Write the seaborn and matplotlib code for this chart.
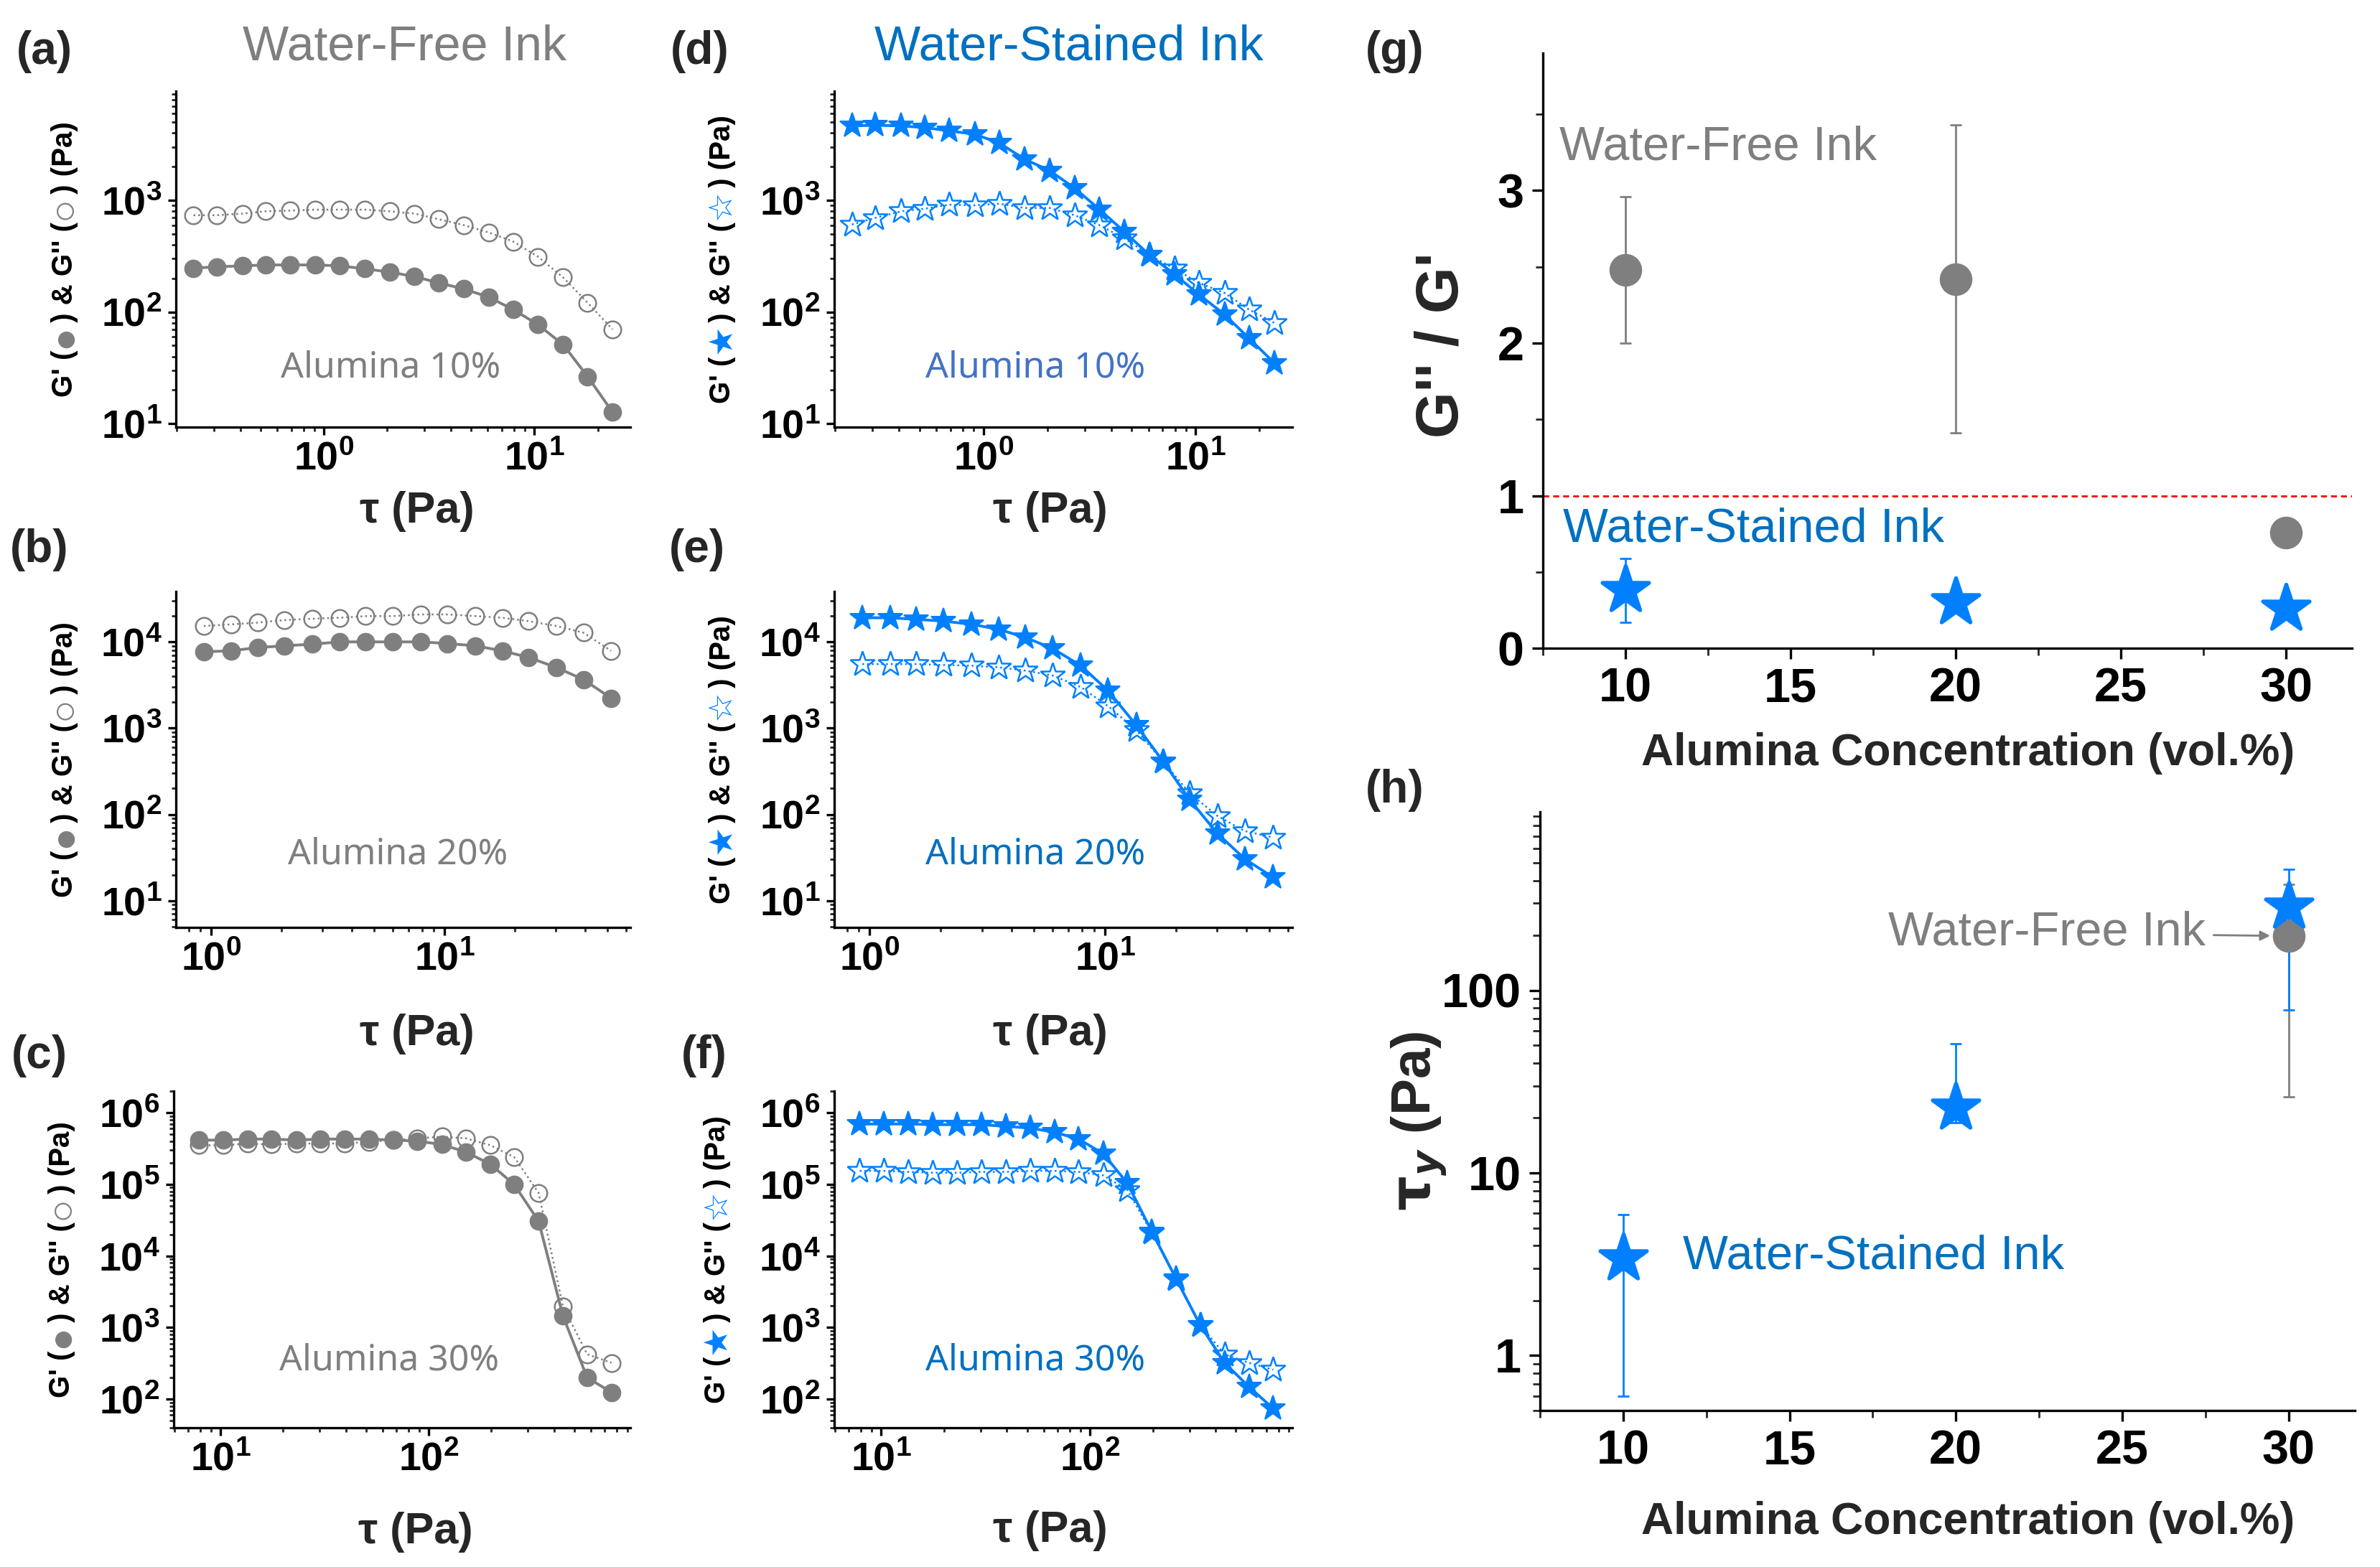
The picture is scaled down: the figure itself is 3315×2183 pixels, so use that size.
import numpy as np
import matplotlib
matplotlib.use("Agg")
import matplotlib.pyplot as plt
from matplotlib.ticker import (LogLocator, NullFormatter, MultipleLocator,
                               AutoMinorLocator, FixedLocator, FixedFormatter)
import seaborn as sns

sns.set_theme(style="ticks")
plt.rcParams['font.family'] = ['Liberation Sans', 'DejaVu Sans']
plt.rcParams['font.weight'] = 'bold'
plt.rcParams['axes.linewidth'] = 1.2
plt.rcParams['axes.edgecolor'] = 'black'

GREY = '#7F7F7F'
BLUE = '#0080FF'
TITLE_BLUE = '#0070C0'
SANS = ['Liberation Sans', 'DejaVu Sans']

# --- amplitude sweep data: shear stress (Pa) vs moduli (Pa) ---
tau_10 = [0.24, 0.31, 0.41, 0.53, 0.69, 0.91, 1.19, 1.56, 2.05, 2.69, 3.52, 4.62,
          6.06, 7.95, 10.4, 13.7, 17.9, 23.5]
wf10_gp = [247, 254, 259, 264, 264, 264, 259, 244, 228, 208, 182, 161, 136, 105,
           77, 51, 26.4, 12.7]
wf10_gpp = [736, 736, 761, 798, 809, 826, 826, 826, 798, 761, 678, 600, 516, 427,
            313, 204, 121, 70]
ws10_gp = [4640, 4710, 4640, 4490, 4190, 3915, 3255, 2345, 1848, 1288, 832, 523,
           324, 218, 143, 95, 58, 35]
ws10_gpp = [608, 697, 798, 843, 915, 903, 934, 855, 855, 736, 600, 456, 324, 244,
            182, 148, 105, 80]

tau_20 = [0.93, 1.22, 1.58, 2.06, 2.71, 3.54, 4.60, 6.0, 7.9, 10.3, 13.6, 17.7,
          22.9, 30.1, 39.4, 51.8]
wf20_gp = [7680, 7880, 8600, 9000, 9400, 10000, 10000, 10000, 10000, 9570, 9000,
           7880, 6610, 5070, 3660, 2230]
wf20_gpp = [15300, 15960, 16700, 17900, 18550, 19050, 19900, 19900, 20800, 20800,
            19900, 19050, 17400, 15300, 12800, 7880]
ws20_gp = [19050, 19050, 18240, 17430, 15970, 13990, 11210, 8380, 5300, 2730, 1082,
           410, 149, 60, 30.4, 18.7]
ws20_gpp = [5530, 5530, 5530, 5390, 5300, 5070, 4640, 4070, 2990, 1806, 948, 410,
            177, 96, 64, 54]

tau_30 = [7.9, 10.3, 13.5, 17.6, 23.1, 30.2, 39.5, 51.7, 67.6, 88.4, 116, 151, 198,
          258, 338, 442, 578, 756]
wf30_gp = [414000, 414000, 428000, 428000, 414000, 428000, 428000, 428000, 414000,
           401000, 359000, 282000, 191000, 98900, 30400, 1456, 200, 125]
wf30_gpp = [351000, 351000, 371000, 359000, 371000, 371000, 371000, 392000, 414000,
            438000, 463000, 438000, 351000, 239000, 75200, 1983, 424, 322]
ws30_gp = [695000, 695000, 695000, 681000, 681000, 681000, 644000, 610000, 534000,
           428000, 267000, 104000, 21900, 4890, 1080, 321, 149, 74]
ws30_gpp = [154000, 154000, 149000, 145000, 145000, 149000, 149000, 154000, 154000,
            149000, 133000, 83800, 21100, 4780, 1080, 424, 321, 258]

# --- summary data ---
conc = [10, 20, 30]
ratio_wf = [2.48, 2.42, 0.76]
ratio_wf_err = [0.48, 1.01, 0.0]
ratio_ws = [0.38, 0.30, 0.26]
ratio_ws_err = [0.21, 0.03, 0.03]

yield_ws = [3.4, 22.8, 287]
yield_ws_lo = [2.8, 4.0, 209]
yield_ws_hi = [2.5, 28, 173]
conc_wf_yield = [30]
yield_wf = [199]
yield_wf_lo = [173]
yield_wf_hi = [181]

W, H, DPI = 3315, 2183, 200
fig = plt.figure(figsize=(W / DPI, H / DPI), dpi=DPI)


def stacked_ylabel(ax, pieces, xfrac, size):
    # y label built from pieces so the marker symbols can carry their own colour
    r = fig.canvas.get_renderer()
    texts = [ax.text(xfrac, 0, s, transform=ax.transAxes, rotation=90, ha='center',
                     va='bottom', color=c, fontsize=size * k, fontweight='bold',
                     family=SANS) for s, c, k in pieces]
    gap = 3
    hs = [t.get_window_extent(r).height for t in texts]
    total = sum(hs) + gap * (len(hs) - 1)
    y = ax.bbox.height / 2 - total / 2
    for t, h in zip(texts, hs):
        t.set_y(y / ax.bbox.height)
        y += h + gap


def sweep_panel(rect, x, gp, gpp, xlim, ylim, blue, note, note_pos, note_color,
                xl_y, xl_x):
    ax = fig.add_axes(rect)
    col = BLUE if blue else GREY
    mk = '*' if blue else 'o'
    ms = 13 if blue else 8.5
    sns.lineplot(x=x, y=gpp, ax=ax, color=col, marker=mk, markersize=ms,
                 markerfacecolor='none', markeredgecolor=col, markeredgewidth=0.9,
                 linestyle=':', linewidth=0.9, estimator=None, sort=False, legend=False)
    sns.lineplot(x=x, y=gp, ax=ax, color=col, marker=mk, markersize=ms,
                 markerfacecolor=col, markeredgecolor=col, linewidth=1.4,
                 estimator=None, sort=False, legend=False)
    ax.set_xscale('log')
    ax.set_yscale('log')
    ax.set_xlim(*xlim)
    ax.set_ylim(*ylim)
    for axis in (ax.xaxis, ax.yaxis):
        axis.set_major_locator(LogLocator(base=10, numticks=12))
        axis.set_minor_locator(LogLocator(base=10, subs=np.arange(2, 10), numticks=12))
        axis.set_minor_formatter(NullFormatter())
    ax.tick_params(which='major', direction='out', length=4, width=1.2,
                   labelsize=20, pad=3, colors='black')
    ax.tick_params(which='minor', direction='out', length=2, width=1.0)
    sns.despine(ax=ax)
    ax.set_xlabel('')
    ax.set_ylabel('')
    ax.text(xl_x, xl_y, 'τ (Pa)', transform=ax.transAxes, ha='center', va='center',
            fontsize=22, fontweight='bold', family=SANS)
    ax.text(note_pos[0], note_pos[1], note, transform=ax.transAxes, ha='center',
            va='center', fontsize=18, fontweight='normal', color=note_color,
            family=['Noto Sans', 'DejaVu Sans'])
    if blue:
        pieces = [("G' (", 'black', 1), ('★', BLUE, 1.15), (") & G'' (", 'black', 1),
                  ('☆', BLUE, 1.15), (') (Pa)', 'black', 1)]
    else:
        pieces = [("G' (", 'black', 1), ('●', GREY, 1.35), (") & G'' (", 'black', 1),
                  ('○', GREY, 1.35), (') (Pa)', 'black', 1)]
    return ax, pieces


panels = [
    ([0.0739, 0.7274, 0.1910, 0.2144], tau_10, wf10_gp, wf10_gpp, (0.198, 28.6),
     (9.3, 9500), False, 'Alumina 10%', (0.472, 0.177), GREY, -0.25, 0.53, -0.245),
    ([0.3505, 0.7274, 0.1925, 0.2144], tau_10, ws10_gp, ws10_gpp, (0.198, 28.6),
     (9.3, 9500), True, 'Alumina 10%', (0.439, 0.177), '#4472C4', -0.25, 0.472, -0.245),
    ([0.0739, 0.4082, 0.1910, 0.2144], tau_20, wf20_gp, wf20_gpp, (0.706, 62.7),
     (4.9, 38500), False, 'Alumina 20%', (0.488, 0.216), GREY, -0.318, 0.53, -0.245),
    ([0.3505, 0.4082, 0.1925, 0.2144], tau_20, ws20_gp, ws20_gpp, (0.706, 62.7),
     (4.9, 38500), True, 'Alumina 20%', (0.439, 0.216), TITLE_BLUE, -0.318, 0.472, -0.245),
    ([0.0730, 0.0889, 0.1919, 0.2148], tau_30, wf30_gp, wf30_gpp, (5.96, 933),
     (40, 2.0e6), False, 'Alumina 30%', (0.472, 0.20), GREY, -0.311, 0.53, -0.245),
    ([0.3505, 0.0889, 0.1925, 0.2148], tau_30, ws30_gp, ws30_gpp, (5.96, 933),
     (40, 2.0e6), True, 'Alumina 30%', (0.439, 0.20), TITLE_BLUE, -0.307, 0.472, -0.255),
]

label_jobs = []
for (rect, x, gp, gpp, xlim, ylim, blue, note, npos, ncol, xly, xlx, ylx) in panels:
    ax, pieces = sweep_panel(rect, x, gp, gpp, xlim, ylim, blue, note, npos, ncol,
                             xly, xlx)
    label_jobs.append((ax, pieces, ylx))

fig.canvas.draw()
for ax, pieces, ylx in label_jobs:
    stacked_ylabel(ax, pieces, ylx, 14.5)

# --- (g) G''/G' ratio ---
axg = fig.add_axes([0.6483, 0.5863, 0.3400, 0.3798])
axg.errorbar(conc, ratio_wf, yerr=ratio_wf_err, fmt='none', ecolor=GREY,
             elinewidth=1.0, capsize=3, capthick=1.0)
axg.errorbar(conc, ratio_ws, yerr=ratio_ws_err, fmt='none', ecolor=BLUE,
             elinewidth=1.0, capsize=3, capthick=1.0)
sns.scatterplot(x=conc, y=ratio_wf, ax=axg, color=GREY, marker='o', s=230,
                edgecolor=GREY, legend=False, zorder=3)
sns.scatterplot(x=conc, y=ratio_ws, ax=axg, color=BLUE, marker='*', s=600,
                edgecolor=BLUE, legend=False, zorder=3)
axg.axhline(1, color='#FF0000', linestyle='--', linewidth=1.0, dashes=(3, 2))
axg.set_xlim(7.5, 32)
axg.set_ylim(0, 3.9)
axg.yaxis.set_major_locator(FixedLocator([0, 1, 2, 3]))
axg.yaxis.set_minor_locator(MultipleLocator(0.5))
axg.xaxis.set_major_locator(MultipleLocator(5))
axg.xaxis.set_minor_locator(AutoMinorLocator(2))
axg.tick_params(which='major', direction='out', length=5.5, width=1.2,
                labelsize=24, pad=4, colors='black')
axg.tick_params(which='minor', direction='out', length=3.5, width=1.0)
sns.despine(ax=axg)
axg.text(0.525, -0.177, 'Alumina Concentration (vol.%)', transform=axg.transAxes,
         ha='center', va='center', fontsize=22.5, fontweight='bold', family=SANS)
axg.text(-0.125, 0.51, "G'' / G'", transform=axg.transAxes, rotation=90,
         ha='center', va='center', fontsize=30, fontweight='bold', family=SANS)
axg.text(8.0, 3.28, 'Water-Free Ink', color=GREY, fontsize=24, fontweight='normal',
         family=SANS, va='center', ha='left')
axg.text(8.1, 0.78, 'Water-Stained Ink', color=TITLE_BLUE, fontsize=24,
         fontweight='normal', family=SANS, va='center', ha='left')

# --- (h) yield stress ---
axh = fig.add_axes([0.6471, 0.0999, 0.3424, 0.3820])
axh.set_yscale('log')
axh.errorbar(conc_wf_yield, yield_wf, yerr=[yield_wf_lo, yield_wf_hi], fmt='none',
             ecolor=GREY, elinewidth=1.0, capsize=3, capthick=1.0)
axh.errorbar(conc, yield_ws, yerr=[yield_ws_lo, yield_ws_hi], fmt='none',
             ecolor=BLUE, elinewidth=1.0, capsize=3, capthick=1.0)
sns.scatterplot(x=conc_wf_yield, y=yield_wf, ax=axh, color=GREY, marker='o', s=230,
                edgecolor=GREY, legend=False, zorder=3)
sns.scatterplot(x=conc, y=yield_ws, ax=axh, color=BLUE, marker='*', s=600,
                edgecolor=BLUE, legend=False, zorder=3)
axh.set_xlim(7.5, 32)
axh.set_ylim(0.5, 950)
axh.yaxis.set_major_locator(FixedLocator([1, 10, 100]))
axh.yaxis.set_major_formatter(FixedFormatter(['1', '10', '100']))
axh.yaxis.set_minor_locator(LogLocator(base=10, subs=np.arange(2, 10), numticks=12))
axh.yaxis.set_minor_formatter(NullFormatter())
axh.xaxis.set_major_locator(MultipleLocator(5))
axh.xaxis.set_minor_locator(AutoMinorLocator(2))
axh.tick_params(which='major', direction='out', length=5.5, width=1.2,
                labelsize=24, pad=4, colors='black')
axh.tick_params(which='minor', direction='out', length=3.5, width=1.0)
sns.despine(ax=axh)
axh.text(0.525, -0.187, 'Alumina Concentration (vol.%)', transform=axh.transAxes,
         ha='center', va='center', fontsize=22.5, fontweight='bold', family=SANS)
axh.text(-0.149, 0.483, r'$\mathbf{\tau}_{y}$ (Pa)', transform=axh.transAxes,
         rotation=90, ha='center', va='center', fontsize=27.5, fontweight='bold',
         family=SANS)
axh.annotate('Water-Free Ink', xy=(29.45, 199), xytext=(27.5, 206), color=GREY,
             fontsize=24, fontweight='normal', family=SANS, ha='right', va='center',
             arrowprops=dict(arrowstyle='-|>', color=GREY, lw=1.0,
                             mutation_scale=10, shrinkA=2, shrinkB=0))
axh.text(11.8, 3.47, 'Water-Stained Ink', color=TITLE_BLUE, fontsize=24,
         fontweight='normal', family=SANS, va='center', ha='left')

# --- titles and panel letters ---
fig.text(0.170, 0.970, 'Water-Free Ink', color=GREY, fontsize=24.5,
         fontweight='normal', family=SANS, ha='center', va='center')
fig.text(0.449, 0.970, 'Water-Stained Ink', color=TITLE_BLUE, fontsize=24.5,
         fontweight='normal', family=SANS, ha='center', va='center')
letters = [('(a)', 0.0187, 0.967), ('(d)', 0.294, 0.967), ('(b)', 0.0166, 0.649),
           ('(e)', 0.293, 0.649), ('(c)', 0.0166, 0.326), ('(f)', 0.296, 0.326),
           ('(g)', 0.586, 0.967), ('(h)', 0.586, 0.4957)]
for s, lx, ly in letters:
    fig.text(lx, ly, s, fontsize=23, fontweight='bold', family=SANS,
             ha='center', va='center')

fig.savefig('out.png', dpi=DPI)
